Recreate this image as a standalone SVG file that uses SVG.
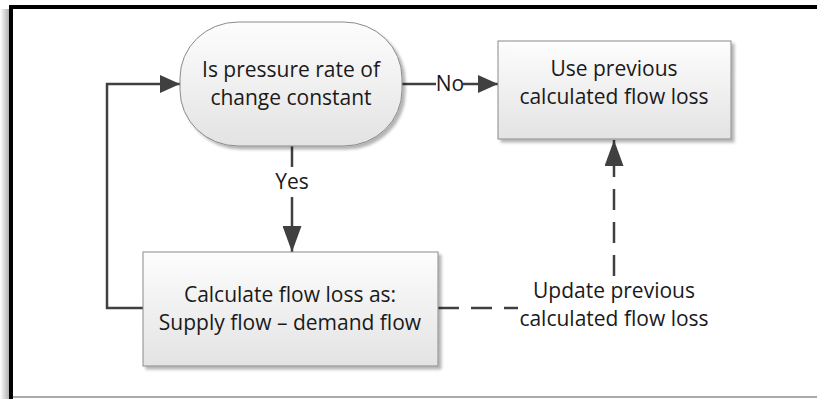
<svg xmlns="http://www.w3.org/2000/svg" width="817" height="399" viewBox="0 0 817 399">
  <defs>
    <linearGradient id="fillGrad" x1="0" y1="0" x2="0" y2="1">
      <stop offset="0" stop-color="#fdfdfd"/>
      <stop offset="1" stop-color="#e3e3e3"/>
    </linearGradient>
    <filter id="shadow" x="-10%" y="-10%" width="125%" height="130%">
      <feGaussianBlur in="SourceAlpha" stdDeviation="1.5"/>
      <feOffset dx="3" dy="3" result="b"/>
      <feComponentTransfer><feFuncA type="linear" slope="0.3"/></feComponentTransfer>
      <feMerge><feMergeNode/><feMergeNode in="SourceGraphic"/></feMerge>
    </filter>
    <linearGradient id="frameShade" x1="1" y1="0" x2="0" y2="0">
      <stop offset="0" stop-color="#b0b0b0"/>
      <stop offset="1" stop-color="#ffffff"/>
    </linearGradient>
    <marker id="arrow" viewBox="0 0 20 18" refX="20" refY="9" markerWidth="20" markerHeight="18" markerUnits="userSpaceOnUse" orient="auto">
      <path d="M0,0 L20,9 L0,18 Z" fill="#404040"/>
    </marker>
    <marker id="arrowLong" viewBox="0 0 26 19" refX="26" refY="9.5" markerWidth="26" markerHeight="19" markerUnits="userSpaceOnUse" orient="auto">
      <path d="M0,0 L26,9.5 L0,19 Z" fill="#404040"/>
    </marker>
  </defs>
  <style>
    .shape { fill: url(#fillGrad); stroke: #8a8a8a; stroke-width: 1; filter: url(#shadow); }
    .label { font-family: "Open Sans", "Liberation Sans", sans-serif; font-size: 21px; fill: #1a1a1a; text-anchor: middle; }
    .edge { fill: none; stroke: #404040; stroke-width: 2.5; }
    .dashed { stroke-dasharray: 21 12; }
  </style>

  <!-- outer frame -->
  <rect x="0" y="9" width="9" height="390" fill="url(#frameShade)"/>
  <path d="M11,399 V7 H817" fill="none" stroke="#000" stroke-width="4"/>
  <line x1="13" y1="397" x2="817" y2="397" stroke="#8c8c8c" stroke-width="1.5"/>

  <!-- connectors -->
  <g id="connectors">
    <path class="edge" d="M402,84 H436" />
    <text class="label" x="450" y="91">No</text>
    <path class="edge" d="M463,84 H498" marker-end="url(#arrow)"/>
    <path class="edge" d="M292,146 V167" />
    <text class="label" x="292" y="189">Yes</text>
    <path class="edge" d="M292,197 V252" marker-end="url(#arrowLong)"/>
    <path class="edge" d="M143,308 H107 V84 H180" marker-end="url(#arrow)"/>
    <path class="edge dashed" d="M438,308 H518"/>
    <path class="edge dashed" d="M614,276 V140" marker-end="url(#arrowLong)"/>
    <rect x="518" y="278" width="190" height="56" fill="#ffffff"/>
    <text class="label" x="614" y="298">Update previous</text>
    <text class="label" x="614" y="326">calculated flow loss</text>
  </g>

  <!-- decision: pressure rate check -->
  <g id="node-check">
    <rect class="shape" x="180" y="22" width="222" height="124" rx="58" ry="56"/>
    <text class="label" x="291" y="77">Is pressure rate of</text>
    <text class="label" x="291" y="105">change constant</text>
  </g>

  <!-- use previous flow loss -->
  <g id="node-previous">
    <rect class="shape" x="498" y="41" width="233" height="98"/>
    <text class="label" x="614" y="76">Use previous</text>
    <text class="label" x="614" y="104">calculated flow loss</text>
  </g>

  <!-- calculate flow loss -->
  <g id="node-calculate">
    <rect class="shape" x="143" y="252" width="295" height="114"/>
    <text class="label" x="290" y="302">Calculate flow loss as:</text>
    <text class="label" x="290" y="330">Supply flow – demand flow</text>
  </g>
</svg>
